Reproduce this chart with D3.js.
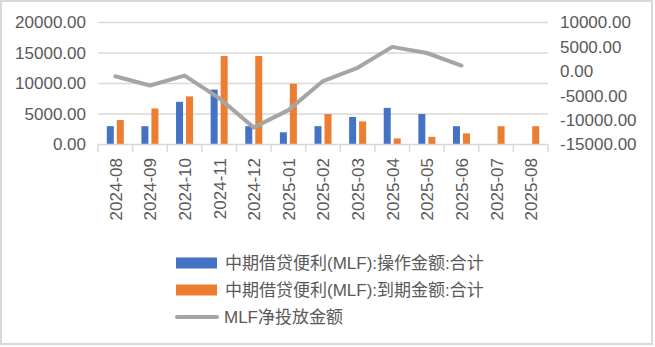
<!DOCTYPE html>
<html>
<head>
<meta charset="utf-8">
<script src="https://cdn.jsdelivr.net/npm/d3@7/dist/d3.min.js"></script>
<style>
  html, body { margin: 0; padding: 0; background: #fff; }
  svg { display: block; font-family: "Liberation Sans", "Noto Sans CJK SC", sans-serif; }
</style>
</head>
<body>
<svg id="chart" width="655" height="347"></svg>
<script>
// MLF monthly operations, maturities and net injection (亿元)
const categories = ["2024-08","2024-09","2024-10","2024-11","2024-12","2025-01","2025-02","2025-03","2025-04","2025-05","2025-06","2025-07","2025-08"];
const operation = [3000, 3000, 7000, 9000, 3000, 2000, 3000, 4500, 6000, 5000, 3000, null, null];
const maturity  = [4010, 5910, 7890, 14500, 14500, 9950, 5000, 3790, 1000, 1250, 1820, 3000, 3000];
const netInjection = [-1010, -2910, -890, -5500, -11500, -7950, -2000, 710, 5000, 3750, 1180, null, null];

const leftTicks  = [0, 5000, 10000, 15000, 20000];
const rightTicks = [-15000, -10000, -5000, 0, 5000, 10000];

const seriesNames = ["中期借贷便利(MLF):操作金额:合计", "中期借贷便利(MLF):到期金额:合计", "MLF净投放金额"];
const colors = { op: "#4472C4", mat: "#ED7D31", net: "#A5A5A5" };

const svg = d3.select("#chart");
const textColor = "#595959";
const gridColor = "#D9D9D9";

// chart frame
svg.append("rect")
  .attr("x", 1).attr("y", 1).attr("width", 651).attr("height", 343)
  .attr("fill", "#fff").attr("stroke", gridColor).attr("stroke-width", 2);

const plot = { left: 98, right: 548, top: 22.5, bottom: 144.5 };

const x = d3.scaleBand().domain(categories).range([plot.left, plot.right]).padding(0);
const xInner = d3.scaleBand().domain(["op", "mat"]).range([0, x.bandwidth()])
  .paddingInner(0.3).paddingOuter(0.88);
const yLeft = d3.scaleLinear().domain([0, 20000]).range([plot.bottom, plot.top]);
const yRight = d3.scaleLinear().domain([-15000, 10000]).range([plot.bottom, plot.top]);

const fmt = d3.formatLocale({ decimal: ".", thousands: ",", grouping: [3], currency: ["", ""], minus: "-" }).format(".2f");

// gridlines
svg.append("g")
  .selectAll("line")
  .data(leftTicks.filter(d => d !== 0))
  .join("line")
  .attr("x1", plot.left).attr("x2", plot.right)
  .attr("y1", d => yLeft(d)).attr("y2", d => yLeft(d))
  .attr("stroke", gridColor).attr("stroke-width", 1.5);

// left axis labels
const leftAxis = svg.append("g")
  .attr("transform", `translate(${plot.left},0)`)
  .call(d3.axisLeft(yLeft).tickValues(leftTicks).tickFormat(fmt).tickSize(0).tickPadding(12));
leftAxis.select(".domain").remove();
leftAxis.selectAll("text").attr("fill", textColor).attr("font-size", 17);

// right axis labels
const rightAxis = svg.append("g")
  .attr("transform", `translate(${plot.right},0)`)
  .call(d3.axisRight(yRight).tickValues(rightTicks).tickFormat(fmt).tickSize(0).tickPadding(12));
rightAxis.select(".domain").remove();
rightAxis.selectAll("text").attr("fill", textColor).attr("font-size", 17);

// bars
const barData = categories.map((c, i) => ({ c, op: operation[i], mat: maturity[i] }));
const barGroups = svg.append("g").selectAll("g")
  .data(barData).join("g")
  .attr("transform", d => `translate(${x(d.c)},0)`);
barGroups.selectAll("rect")
  .data(d => ["op", "mat"].filter(k => d[k] != null).map(k => ({ k, v: d[k] })))
  .join("rect")
  .attr("x", d => xInner(d.k))
  .attr("width", xInner.bandwidth())
  .attr("y", d => yLeft(d.v))
  .attr("height", d => yLeft(0) - yLeft(d.v))
  .attr("fill", d => colors[d.k]);

// category axis with tick marks between bands
const xAxis = svg.append("g")
  .attr("transform", `translate(0,${plot.bottom})`);
xAxis.append("line")
  .attr("x1", plot.left).attr("x2", plot.right)
  .attr("stroke", gridColor).attr("stroke-width", 1.5);
xAxis.selectAll("line.tick")
  .data(categories.map(c => x(c)).concat([plot.right]))
  .join("line").attr("class", "tick")
  .attr("x1", d => d).attr("x2", d => d)
  .attr("y1", 0).attr("y2", 7.5)
  .attr("stroke", gridColor).attr("stroke-width", 1.5);
xAxis.selectAll("text")
  .data(categories)
  .join("text")
  .attr("transform", d => `translate(${x(d) + x.bandwidth() / 2 + 0.5},13.5) rotate(-90)`)
  .attr("text-anchor", "end")
  .attr("dy", "0.35em")
  .attr("fill", textColor)
  .attr("font-size", 17)
  .text(d => d);

// net injection line
const line = d3.line()
  .defined(d => d.v != null)
  .x(d => x(d.c) + x.bandwidth() / 2)
  .y(d => yRight(d.v));
svg.append("path")
  .datum(categories.map((c, i) => ({ c, v: netInjection[i] })))
  .attr("d", line)
  .attr("fill", "none")
  .attr("stroke", colors.net)
  .attr("stroke-width", 4)
  .attr("stroke-linejoin", "round")
  .attr("stroke-linecap", "round");

// legend
const legend = svg.append("g").attr("transform", "translate(176,263)");
const legendItems = [
  { name: seriesNames[0], type: "rect", color: colors.op },
  { name: seriesNames[1], type: "rect", color: colors.mat },
  { name: seriesNames[2], type: "line", color: colors.net }
];
const li = legend.selectAll("g").data(legendItems).join("g")
  .attr("transform", (d, i) => `translate(0,${i * 27})`);
li.filter(d => d.type === "rect").append("rect")
  .attr("x", 0).attr("y", -5.5).attr("width", 41).attr("height", 11)
  .attr("fill", d => d.color);
li.filter(d => d.type === "line").append("line")
  .attr("x1", 1).attr("x2", 41).attr("y1", 0).attr("y2", 0)
  .attr("stroke", d => d.color).attr("stroke-width", 4).attr("stroke-linecap", "round");
li.append("text")
  .attr("x", d => d.type === "rect" ? 49 : 48)
  .attr("dy", "0.35em")
  .attr("fill", textColor)
  .attr("font-size", 17)
  .text(d => d.name);
</script>
</body>
</html>
